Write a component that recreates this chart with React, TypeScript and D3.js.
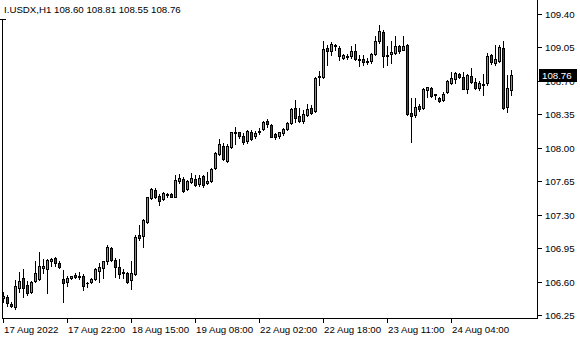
import React from "react";
import * as d3 from "d3";

const title = "I.USDX,H1  108.60 108.81 108.55 108.76";

const opens = [
  106.43, 106.44, 106.37, 106.33, 106.53, 106.64, 106.56, 106.49, 106.61, 106.63,
  106.74, 106.73, 106.82, 106.85, 106.79, 106.63, 106.60, 106.64, 106.67, 106.66,
  106.66, 106.58, 106.60, 106.63, 106.71, 106.74, 106.81, 106.95, 106.83, 106.75,
  106.70, 106.69, 106.62, 106.68, 107.09, 107.08, 107.22, 107.47, 107.56, 107.50,
  107.46, 107.51, 107.52, 107.49, 107.65, 107.67, 107.57, 107.64, 107.67, 107.62,
  107.70, 107.63, 107.65, 107.79, 107.94, 108.02, 107.86, 108.01, 108.15, 108.16,
  108.12, 108.07, 108.17, 108.12, 108.16, 108.20, 108.28, 108.24, 108.14, 108.12,
  108.15, 108.20, 108.26, 108.42, 108.33, 108.28, 108.34, 108.42, 108.38, 108.74,
  108.74, 109.04, 109.01, 109.08, 109.04, 108.94, 108.96, 108.96, 109.01, 108.93,
  108.93, 108.90, 108.91, 108.98, 109.12, 109.21, 108.96, 108.98, 108.99, 109.06,
  109.02, 109.08, 108.36, 108.34, 108.44, 108.42, 108.60, 108.63, 108.56, 108.52,
  108.50, 108.58, 108.68, 108.72, 108.77, 108.74, 108.61, 108.75, 108.69, 108.63,
  108.66, 108.68, 108.97, 108.89, 108.91, 109.04, 108.43, 108.60,
];
const highs = [
  106.49, 106.46, 106.39, 106.62, 106.70, 106.73, 106.61, 106.61, 106.82, 106.91,
  106.84, 106.84, 106.85, 106.86, 106.81, 106.72, 106.66, 106.66, 106.69, 106.70,
  106.68, 106.60, 106.64, 106.74, 106.79, 106.82, 106.98, 106.96, 106.85, 106.84,
  106.73, 106.70, 106.81, 107.09, 107.19, 107.25, 107.49, 107.58, 107.58, 107.52,
  107.54, 107.53, 107.53, 107.72, 107.73, 107.69, 107.66, 107.74, 107.72, 107.72,
  107.72, 107.75, 107.79, 107.96, 108.09, 108.05, 108.04, 108.17, 108.22, 108.17,
  108.15, 108.19, 108.19, 108.18, 108.21, 108.28, 108.30, 108.25, 108.15, 108.17,
  108.21, 108.27, 108.42, 108.50, 108.42, 108.40, 108.46, 108.45, 108.74, 108.80,
  109.12, 109.08, 109.11, 109.09, 109.07, 108.98, 108.98, 109.07, 109.09, 108.97,
  108.97, 108.94, 108.99, 109.17, 109.28, 109.23, 109.07, 109.12, 109.17, 109.08,
  109.17, 109.09, 108.52, 108.52, 108.46, 108.63, 108.64, 108.64, 108.56, 108.53,
  108.58, 108.71, 108.79, 108.79, 108.78, 108.79, 108.77, 108.84, 108.73, 108.70,
  108.77, 108.99, 108.98, 109.08, 109.08, 109.12, 108.76, 108.81,
];
const lows = [
  106.39, 106.34, 106.33, 106.31, 106.49, 106.44, 106.46, 106.48, 106.60, 106.62,
  106.69, 106.48, 106.76, 106.76, 106.74, 106.39, 106.55, 106.63, 106.64, 106.63,
  106.51, 106.54, 106.58, 106.62, 106.60, 106.64, 106.78, 106.81, 106.65, 106.64,
  106.64, 106.59, 106.52, 106.67, 107.04, 106.96, 107.21, 107.46, 107.47, 107.40,
  107.45, 107.49, 107.48, 107.48, 107.63, 107.54, 107.56, 107.63, 107.60, 107.60,
  107.59, 107.62, 107.64, 107.78, 107.92, 107.87, 107.85, 108.00, 108.04, 108.10,
  108.04, 108.05, 108.08, 108.10, 108.14, 108.19, 108.22, 108.12, 108.09, 108.10,
  108.13, 108.19, 108.25, 108.27, 108.27, 108.26, 108.33, 108.35, 108.37, 108.66,
  108.73, 108.87, 108.97, 109.02, 108.92, 108.93, 108.93, 108.94, 108.92, 108.86,
  108.87, 108.88, 108.89, 108.97, 109.10, 108.85, 108.87, 108.89, 108.98, 108.99,
  109.02, 108.34, 108.06, 108.32, 108.38, 108.41, 108.53, 108.53, 108.51, 108.48,
  108.49, 108.57, 108.67, 108.68, 108.73, 108.61, 108.57, 108.68, 108.61, 108.60,
  108.55, 108.66, 108.88, 108.87, 108.90, 108.41, 108.37, 108.55,
];
const closes = [
  106.45, 106.38, 106.34, 106.55, 106.61, 106.53, 106.48, 106.60, 106.69, 106.76,
  106.76, 106.83, 106.84, 106.79, 106.75, 106.59, 106.64, 106.66, 106.65, 106.65,
  106.55, 106.59, 106.63, 106.73, 106.75, 106.81, 106.96, 106.83, 106.75, 106.68,
  106.69, 106.60, 106.69, 107.07, 107.06, 107.24, 107.48, 107.57, 107.49, 107.44,
  107.53, 107.52, 107.49, 107.66, 107.68, 107.55, 107.65, 107.68, 107.61, 107.68,
  107.61, 107.65, 107.78, 107.95, 108.04, 107.88, 108.02, 108.16, 108.16, 108.12,
  108.06, 108.18, 108.09, 108.15, 108.18, 108.27, 108.25, 108.11, 108.11, 108.16,
  108.20, 108.26, 108.41, 108.31, 108.28, 108.35, 108.41, 108.36, 108.73, 108.75,
  109.03, 109.01, 109.09, 109.06, 108.96, 108.97, 108.95, 109.01, 108.93, 108.92,
  108.90, 108.91, 108.98, 109.12, 109.22, 108.96, 108.97, 109.00, 109.07, 109.01,
  109.07, 108.35, 108.33, 108.43, 108.41, 108.62, 108.64, 108.54, 108.55, 108.49,
  108.56, 108.70, 108.73, 108.78, 108.74, 108.62, 108.76, 108.69, 108.63, 108.68,
  108.67, 108.96, 108.90, 108.93, 109.05, 108.42, 108.63, 108.76,
];

const priceTicks = [109.4, 109.05, 108.7, 108.35, 108.0, 107.65, 107.3, 106.95, 106.6, 106.25];
const timeLabels = [
  "17 Aug 2022",
  "17 Aug 22:00",
  "18 Aug 15:00",
  "19 Aug 08:00",
  "22 Aug 02:00",
  "22 Aug 18:00",
  "23 Aug 11:00",
  "24 Aug 04:00",
];
const barsPerLabel = 16;
const lastPrice = 108.76;

const W = 580;
const H = 340;
const FONT = "'Liberation Sans', Arial, sans-serif";
const BULL = "#32CD32";
const BEAR = "#E00000";

export default function App() {
  const n = closes.length;
  const x = d3.scaleLinear().domain([0, n - 1]).range([3, 3 + 4 * (n - 1)]);
  const y = d3.scaleLinear().domain([106.25, 109.4]).range([315, 14]);
  const frameL = 2;
  const frameR = 537;
  const frameB = 318;

  const wicks: React.ReactNode[] = [];
  const bodies: React.ReactNode[] = [];
  for (let i = 0; i < n; i++) {
    const cx = Math.round(x(i));
    const o = opens[i];
    const c = closes[i];
    const yh = Math.round(y(highs[i]));
    const yl = Math.round(y(lows[i]));
    const yt = Math.round(y(Math.max(o, c)));
    const yb = Math.round(y(Math.min(o, c)));
    wicks.push(<rect key={"w" + i} x={cx} y={yh} width={1} height={yl - yh + 1} fill="#000" />);
    if (yb - yt < 2) {
      bodies.push(<rect key={"b" + i} x={cx - 1} y={yt} width={3} height={Math.max(1, yb - yt + 1)} fill="#000" />);
    } else {
      bodies.push(
        <rect
          key={"b" + i}
          x={cx - 0.5}
          y={yt + 0.5}
          width={2}
          height={yb - yt}
          fill={c >= o ? BULL : BEAR}
          stroke="#000"
          strokeWidth={1}
        />
      );
    }
  }

  const yLast = Math.round(y(lastPrice));

  return (
    <svg
      width={W}
      height={H}
      style={{ position: "absolute", left: 0, top: 0, background: "#fff" }}
      fontFamily={FONT}
    >
      <rect x={0} y={0} width={W} height={H} fill="#fff" />
      <text x={4} y={13} fontSize={9.7} fill="#000">{title}</text>
      {/* frame */}
      <rect x={0} y={19} width={frameL + 4} height={1} fill="#000" />
      <rect x={frameL} y={19} width={1} height={frameB - 19 + 1} fill="#000" />
      <rect x={frameR} y={0} width={1} height={frameB + 1} fill="#000" />
      <rect x={frameL} y={frameB} width={frameR - frameL + 1} height={1} fill="#000" />
      {/* price axis */}
      {priceTicks.map((p) => {
        const yy = Math.round(y(p));
        return (
          <g key={"p" + p}>
            <rect x={frameR + 1} y={yy} width={4} height={1} fill="#000" />
            <text x={545} y={yy + 4} fontSize={9.7} fill="#000">{p.toFixed(2)}</text>
          </g>
        );
      })}
      {/* time axis */}
      {timeLabels.map((t, k) => {
        const xx = Math.round(x(k * barsPerLabel));
        return (
          <g key={"t" + k}>
            <rect x={xx} y={frameB + 1} width={1} height={4} fill="#000" />
            <text x={xx + 1} y={333} fontSize={9.7} fill="#000">{t}</text>
          </g>
        );
      })}
      {wicks}
      {bodies}
      {/* last price label */}
      <rect x={539} y={yLast - 6} width={38} height={13} fill="#000" />
      <text x={542} y={yLast + 4} fontSize={9.7} fill="#fff">{lastPrice.toFixed(2)}</text>
    </svg>
  );
}
